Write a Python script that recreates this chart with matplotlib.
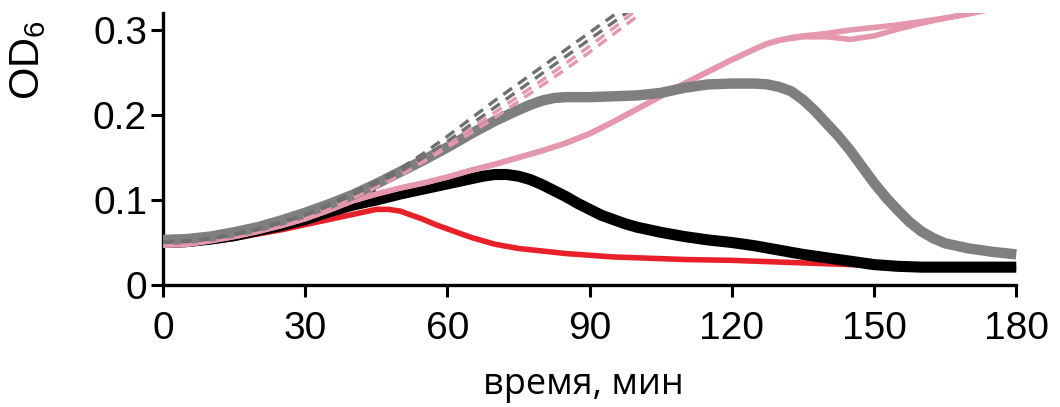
import matplotlib
matplotlib.use("Agg")
import matplotlib.pyplot as plt

# ---- data ----
t_red = [0, 5, 10, 15, 20, 25, 30, 35, 40, 42.5, 45, 47.5, 50, 52.5, 55, 57.5,
         60, 62.5, 65, 67.5, 70, 75, 80, 85, 90, 95, 100, 110, 120, 130, 140,
         150, 160, 170, 180]
red = [0.047, 0.048, 0.051, 0.055, 0.060, 0.065, 0.071, 0.077, 0.083, 0.086,
       0.089, 0.089, 0.087, 0.082, 0.077, 0.071, 0.066, 0.061, 0.056, 0.052,
       0.048, 0.043, 0.040, 0.037, 0.035, 0.033, 0.032, 0.030, 0.029, 0.027,
       0.025, 0.023, 0.022, 0.021, 0.020]

t_black = [0, 5, 10, 15, 20, 25, 30, 35, 40, 45, 50, 55, 60, 65, 67.5, 70,
           72.5, 75, 77.5, 80, 82.5, 85, 87.5, 90, 92.5, 95, 97.5, 100, 105,
           110, 115, 120, 125, 130, 135, 140, 145, 150, 155, 160, 170, 180]
black = [0.050, 0.051, 0.054, 0.058, 0.064, 0.070, 0.077, 0.086, 0.094, 0.100,
         0.107, 0.113, 0.119, 0.125, 0.128, 0.130, 0.130, 0.128, 0.124, 0.118,
         0.111, 0.104, 0.096, 0.089, 0.082, 0.077, 0.072, 0.068, 0.062, 0.057,
         0.053, 0.050, 0.046, 0.041, 0.036, 0.032, 0.028, 0.024, 0.022, 0.021,
         0.021, 0.021]

t_pink = [0, 5, 10, 15, 20, 25, 30, 35, 40, 45, 50, 55, 60, 65, 70, 75, 80,
          85, 90, 95, 100, 105, 110, 115, 120, 125, 127.5, 130, 132.5, 135,
          140, 145, 150, 155, 160, 165, 170, 175, 180]
pink_a = [0.047, 0.048, 0.052, 0.057, 0.063, 0.070, 0.078, 0.088, 0.099, 0.107,
          0.114, 0.120, 0.127, 0.135, 0.142, 0.150, 0.158, 0.167, 0.178, 0.192,
          0.207, 0.222, 0.237, 0.251, 0.265, 0.278, 0.284, 0.288, 0.291, 0.293,
          0.296, 0.300, 0.303, 0.306, 0.310, 0.314, 0.319, 0.325, 0.330]
pink_b = [0.047, 0.048, 0.052, 0.057, 0.063, 0.070, 0.078, 0.088, 0.099, 0.107,
          0.114, 0.120, 0.127, 0.135, 0.142, 0.150, 0.158, 0.167, 0.178, 0.192,
          0.207, 0.222, 0.237, 0.251, 0.265, 0.278, 0.284, 0.288, 0.290, 0.292,
          0.292, 0.289, 0.293, 0.301, 0.308, 0.314, 0.319, 0.325, 0.330]

t_gray = [0, 5, 10, 15, 20, 25, 30, 35, 40, 45, 50, 55, 60, 65, 70, 75, 77.5,
          80, 82.5, 85, 90, 95, 100, 105, 110, 115, 120, 125, 127.5, 130,
          132.5, 135, 137.5, 140, 142.5, 145, 147.5, 150, 152.5, 155, 157.5,
          160, 162.5, 165, 167.5, 170, 175, 180]
gray = [0.053, 0.054, 0.057, 0.062, 0.068, 0.076, 0.085, 0.095, 0.106, 0.119,
        0.133, 0.147, 0.162, 0.178, 0.193, 0.206, 0.212, 0.217, 0.220, 0.221,
        0.221, 0.222, 0.223, 0.226, 0.232, 0.236, 0.237, 0.237, 0.236, 0.233,
        0.228, 0.218, 0.205, 0.190, 0.175, 0.158, 0.139, 0.120, 0.103, 0.088,
        0.074, 0.063, 0.055, 0.049, 0.046, 0.043, 0.039, 0.036]

t_dash = [0, 5, 10, 15, 20, 25, 30, 35, 40, 45, 50, 55, 60, 65, 70, 75, 80,
          85, 90, 95, 100]
gray_dash_a = [0.051, 0.052, 0.055, 0.060, 0.066, 0.074, 0.083, 0.095, 0.109,
               0.122, 0.137, 0.155, 0.175, 0.196, 0.217, 0.237, 0.257, 0.277,
               0.297, 0.317, 0.337]
gray_dash_b = [0.050, 0.051, 0.054, 0.059, 0.065, 0.073, 0.082, 0.093, 0.106,
               0.119, 0.133, 0.150, 0.169, 0.189, 0.209, 0.229, 0.249, 0.269,
               0.289, 0.309, 0.329]
pink_dash_a = [0.048, 0.049, 0.052, 0.057, 0.063, 0.071, 0.080, 0.091, 0.104,
               0.117, 0.132, 0.149, 0.166, 0.184, 0.203, 0.222, 0.241, 0.261,
               0.281, 0.302, 0.324]
pink_dash_b = [0.048, 0.049, 0.052, 0.057, 0.063, 0.070, 0.079, 0.090, 0.102,
               0.115, 0.129, 0.145, 0.162, 0.179, 0.197, 0.216, 0.235, 0.254,
               0.274, 0.295, 0.316]
t_black_dash = [0, 5, 10, 15, 20, 25, 30, 35, 40, 45]
black_dash = [0.048, 0.049, 0.051, 0.055, 0.060, 0.066, 0.074, 0.084, 0.096,
              0.110]

x_ticks = [0, 30, 60, 90, 120, 150, 180]
y_ticks = [0, 0.1, 0.2, 0.3]
y_tick_labels = ["0", "0.1", "0.2", "0.3"]
x_label = "время, мин"
y_label = "OD$_6$"

# ---- styling ----
plt.rcParams["font.family"] = ["Liberation Sans", "DejaVu Sans"]
plt.rcParams["mathtext.default"] = "regular"

RED = "#e8202a"
PINK = "#e597ad"
GRAY = "#7f7f7f"
GRAY_D = "#6f6f6f"

fig = plt.figure(figsize=(10.6, 4.07), dpi=100)
ax = fig.add_axes([163 / 1060, 1 - 285 / 407, (1021 - 163) / 1060, 272 / 407])

solid = dict(solid_capstyle="butt", solid_joinstyle="round")
dash = (3.2, 2.2)
ax.plot(t_black_dash, black_dash, color="black", lw=2.4, dashes=dash, zorder=1)
ax.plot(t_red, red, color=RED, lw=4.0, zorder=2, **solid)
ax.plot(t_black, black, color="black", lw=8.0, zorder=3, **solid)
ax.plot(t_pink, pink_a, color=PINK, lw=4.0, zorder=4, **solid)
ax.plot(t_pink, pink_b, color=PINK, lw=4.0, zorder=4, **solid)
ax.plot(t_gray, gray, color=GRAY, lw=7.5, zorder=5, **solid)
ax.plot(t_dash, pink_dash_b, color=PINK, lw=2.4, dashes=dash, zorder=6)
ax.plot(t_dash, pink_dash_a, color=PINK, lw=2.4, dashes=dash, zorder=6)
ax.plot(t_dash, gray_dash_b, color=GRAY_D, lw=2.4, dashes=dash, zorder=7)
ax.plot(t_dash, gray_dash_a, color=GRAY_D, lw=2.4, dashes=dash, zorder=7)

ax.set_xlim(0, 181)
ax.set_ylim(0, 0.32)
for s in ("top", "right"):
    ax.spines[s].set_visible(False)
for s in ("left", "bottom"):
    ax.spines[s].set_linewidth(2.4)
ax.spines["bottom"].set_bounds(0, 180)

ax.set_xticks(x_ticks)
ax.set_xticklabels([str(v) for v in x_ticks])
ax.set_yticks(y_ticks)
ax.set_yticklabels(y_tick_labels)
ax.tick_params(axis="both", direction="out", length=8.5, width=2.2,
               labelsize=28, color="black")
ax.tick_params(axis="x", pad=10)
ax.tick_params(axis="y", pad=3)

fig.text(0.5 * (462 + 705) / 1060, 1 - 385 / 407, x_label,
         fontsize=26, family=["Open Sans", "DejaVu Sans"],
         ha="center", va="center")
fig.text(28 / 1060, 1 - 100 / 407, y_label, fontsize=30, rotation=90,
         ha="center", va="bottom")

fig.savefig("out.png", dpi=100)
